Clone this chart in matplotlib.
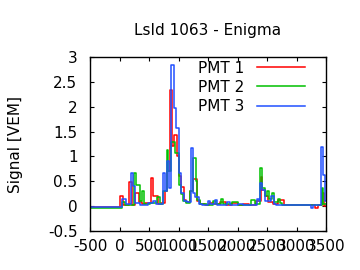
import matplotlib
matplotlib.use("Agg")
import matplotlib.pyplot as plt

title = "LsId 1063 - Enigma"
ylabel = "Signal [VEM]"
labels = ["PMT 1", "PMT 2", "PMT 3"]
colors = ["#ff0000", "#00c000", "#2050ff"]

# step breakpoints (time in ns, signal in VEM), drawn with where='post'
t1 = [-500, 0, 55, 100, 167, 206, 263, 335, 380, 440, 535, 575, 650, 700, 770, 810, 856, 890, 930, 970,
      1010, 1050, 1090, 1130, 1190, 1251, 1318, 1360, 1450, 1520, 1600, 1700, 1800, 1900, 2000, 2100,
      2200, 2320, 2390, 2420, 2460, 2520, 2600, 2680, 2795, 2900, 3314, 3365, 3425, 3440, 3470, 3500]
v1 = [-0.02, 0.2, 0.02, 0.03, 0.48, 0.02, 0.26, 0.08, 0.04, 0.06, 0.56, 0.2, 0.05, 0.07, 0.3, 0.7, 2.33, 1.2, 1.43, 1.0,
      0.6, 0.39, 0.12, 0.08, 0.3, 0.54, 0.1, 0.05, 0.03, 0.07, 0.04, 0.08, 0.03, 0.06, 0.02, 0.05,
      0.03, 0.1, 0.59, 0.33, 0.2, 0.08, 0.05, 0.13, 0.03, 0.02, -0.03, 0.02, 0.05, 0.27, 0.0, 0.0]

t2 = [-500, 50, 100, 250, 280, 340, 380, 420, 520, 640, 680, 740, 800, 830, 880, 940, 1000, 1040, 1080,
      1130, 1190, 1250, 1290, 1320, 1360, 1480, 1580, 1630, 1720, 1760, 1900, 2000, 2230, 2290, 2380,
      2420, 2460, 2500, 2540, 2580, 2620, 2680, 2720, 2760, 3425, 3455, 3500]
v2 = [-0.03, 0.08, 0.03, 0.66, 0.42, 0.1, 0.3, 0.04, 0.06, 0.18, 0.05, 0.3, 1.13, 0.7, 1.3, 1.07, 0.42, 0.25, 0.1,
      0.06, 0.3, 0.97, 0.5, 0.12, 0.05, 0.03, 0.1, 0.04, 0.15, 0.05, 0.08, 0.03, 0.12, 0.04, 0.76,
      0.36, 0.2, 0.3, 0.15, 0.26, 0.08, 0.15, 0.06, 0.02, 0.36, 0.05, 0.05]

t3 = [-500, 50, 110, 195, 225, 270, 340, 480, 560, 620, 730, 770, 800, 840, 880, 920, 960, 1000, 1040,
      1100, 1150, 1210, 1250, 1280, 1340, 1400, 1500, 1540, 1620, 1660, 1830, 1880, 2000, 2100, 2330,
      2370, 2380, 2420, 2460, 2560, 2620, 2660, 3250, 3280, 3410, 3445, 3480, 3500]
v3 = [-0.01, 0.14, 0.05, 0.66, 0.4, 0.07, 0.03, 0.06, 0.1, 0.04, 0.66, 0.3, 0.9, 0.36, 2.84, 1.98, 1.57, 0.66, 0.26,
      0.1, 0.08, 1.16, 0.26, 0.19, 0.05, 0.03, 0.1, 0.04, 0.12, 0.03, 0.08, 0.02, 0.05, 0.02, 0.15,
      0.1, 0.46, 0.33, 0.1, 0.2, 0.05, 0.02, -0.03, 0.02, 1.19, 0.62, 0.1, 0.1]

xticks = [-500, 0, 500, 1000, 1500, 2000, 2500, 3000, 3500]
yticks = [-0.5, 0, 0.5, 1, 1.5, 2, 2.5, 3]

plt.rcParams['font.family'] = ['DejaVu Sans']
fig = plt.figure(figsize=(3.6, 2.7), dpi=100)
ax = fig.add_axes([0.25, 0.1444, 0.6556, 0.6445])

for t, v, lab, c in zip([t1, t2, t3], [v1, v2, v3], labels, colors):
    ax.step(t, v, where='post', color=c, lw=1.1, label=lab)

ax.set_xlim(-500, 3500)
ax.set_ylim(-0.5, 3)
ax.set_xticks(xticks)
ax.set_xticklabels([str(x) for x in xticks])
ax.set_yticks(yticks)
ax.set_yticklabels(["-0.5", "0", "0.5", "1", "1.5", "2", "2.5", "3"])
ax.tick_params(direction='in', length=3, width=0.8, top=True, right=True, labelsize=11, pad=6)
ax.tick_params(axis='y', pad=9)
for s in ax.spines.values():
    s.set_linewidth(1.0)

ax.set_title(title, fontsize=11, pad=16)
ax.set_ylabel(ylabel, fontsize=11, labelpad=18)

leg = ax.legend(loc='upper right', frameon=False, markerfirst=False, fontsize=11,
                handlelength=3.1, handletextpad=0.85, labelspacing=0.27,
                borderaxespad=0.0, bbox_to_anchor=(0.936, 1.014))

fig.savefig("out.png", dpi=100)
